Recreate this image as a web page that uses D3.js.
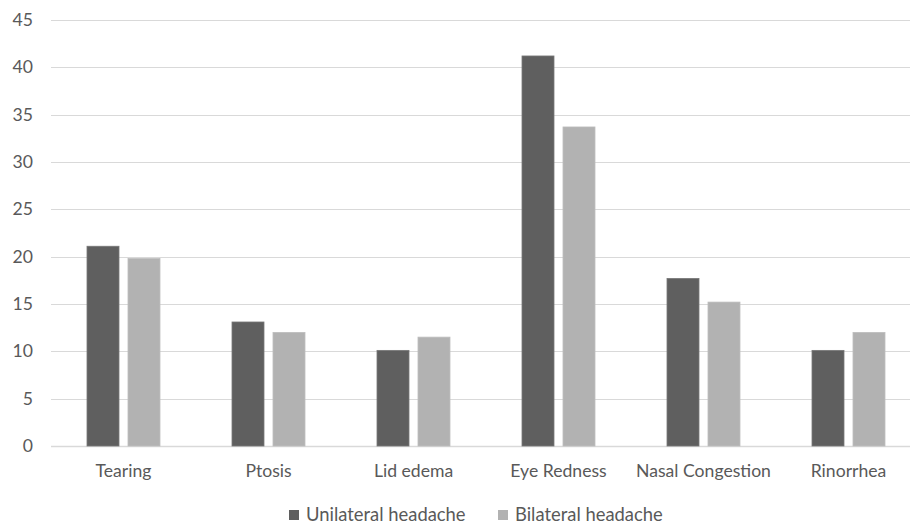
<!DOCTYPE html>
<html>
<head>
<meta charset="utf-8">
<script src="https://cdn.jsdelivr.net/npm/d3@7"></script>
<style>
  html, body { margin: 0; padding: 0; background: #fff; }
  svg { display: block; }
  text { font-family: Lato, "Open Sans", sans-serif; fill: #595959; }
</style>
</head>
<body>
<div id="chart"></div>
<script>
// Symptom categories and percentages per headache type
const categories = ["Tearing", "Ptosis", "Lid edema", "Eye Redness", "Nasal Congestion", "Rinorrhea"];
const seriesNames = ["Unilateral headache", "Bilateral headache"];
const unilateral = [21.1, 13.1, 10.1, 41.2, 17.7, 10.1];
const bilateral = [19.8, 12.0, 11.5, 33.7, 15.2, 12.0];
const yTicks = [0, 5, 10, 15, 20, 25, 30, 35, 40, 45];

const width = 910, height = 526;
const colors = ["#5f5f5f", "#b2b2b2"];
const strokes = ["#787878", "#bdbdbd"];
const fontSize = "17.6px";

const svg = d3.select("#chart").append("svg")
  .attr("width", width).attr("height", height);

const x = d3.scaleBand().domain(categories).range([51, 921]).paddingInner(0).paddingOuter(0);
const y = d3.scaleLinear().domain([0, 45]).range([446, 20]);

// Horizontal gridlines
svg.append("g").selectAll("line").data(yTicks).join("line")
  .attr("x1", 51).attr("x2", width)
  .attr("y1", d => Math.round(y(d)) + 0.5).attr("y2", d => Math.round(y(d)) + 0.5)
  .attr("stroke", "#d9d9d9").attr("stroke-width", d => d === 0 ? 1.5 : 1);

// Y axis labels
const yAxis = d3.axisLeft(y).tickValues(yTicks).tickSize(0).tickPadding(0);
const yg = svg.append("g").attr("transform", "translate(33,0)").call(yAxis);
yg.select(".domain").remove();
yg.selectAll("text").style("font-size", fontSize).attr("fill", "#595959");

// X axis labels
const xAxis = d3.axisBottom(x).tickSize(0).tickPadding(0);
const xg = svg.append("g").attr("transform", "translate(0,464)").call(xAxis);
xg.select(".domain").remove();
xg.selectAll("text").style("font-size", fontSize).attr("fill", "#595959");

// Grouped bars
const barW = 32, gap = 9;
const data = [unilateral, bilateral];
data.forEach((vals, s) => {
  svg.append("g").selectAll("rect").data(categories).join("rect")
    .attr("x", d => {
      const c = x(d) + x.bandwidth() / 2;
      return s === 0 ? c - gap / 2 - barW : c + gap / 2;
    })
    .attr("y", (d, i) => y(vals[i]))
    .attr("width", barW)
    .attr("height", (d, i) => y(0) - y(vals[i]))
    .attr("fill", colors[s])
    .attr("stroke", strokes[s]).attr("stroke-width", 0.8);
});

// Legend
const legend = svg.append("g");
const legendItems = [{ x: 289, name: seriesNames[0] }, { x: 498, name: seriesNames[1] }];
legendItems.forEach((it, s) => {
  legend.append("rect").attr("x", it.x).attr("y", 510).attr("width", 10).attr("height", 10)
    .attr("fill", colors[s]);
  legend.append("text").attr("x", it.x + 17).attr("y", 515).attr("dy", "0.35em")
    .style("font-size", "18.4px").text(it.name);
});
</script>
</body>
</html>
